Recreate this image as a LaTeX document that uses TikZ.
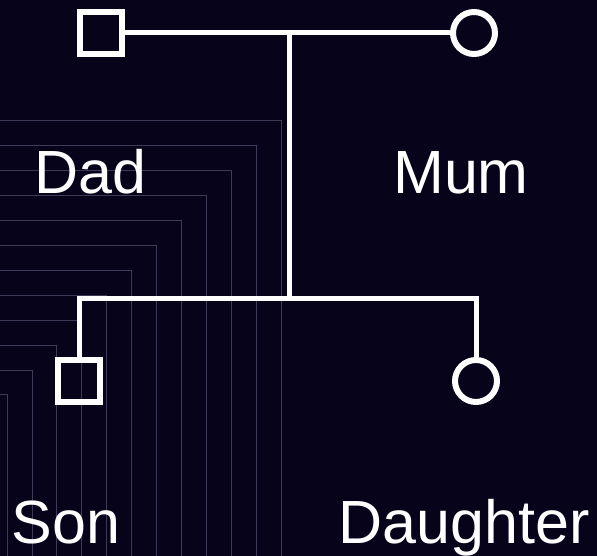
\documentclass[tikz,border=0pt]{standalone}
\usepackage{fontspec}
\setmainfont{Liberation Sans}
\usetikzlibrary{positioning}
\definecolor{bgnavy}{HTML}{06031A}
\definecolor{gridline}{HTML}{403A58}

\begin{document}
\begin{tikzpicture}[
    x=1pt, y=-1pt,
    male/.style={
      draw=white,
      line width=6pt,
      rectangle,
      minimum size=42pt,
      inner sep=0pt
    },
    female/.style={
      draw=white,
      line width=6pt,
      circle,
      minimum size=42pt,
      inner sep=0pt
    },
    personlabel/.style={
      text=white,
      font=\fontsize{61}{61}\selectfont,
      inner sep=0pt,
      anchor=base
    },
    link/.style={draw=white, line width=5pt}
  ]
  \fill[bgnavy] (0,0) rectangle (597,556);
  \useasboundingbox (0,0) rectangle (597,556);
  % faint nested corners behind the tree
  \foreach \k in {0,...,11} {
    \draw[gridline, line width=1pt] (0,121+24.9*\k) -| (281-24.9*\k,556);
  }
  \node[male] (dad) at (101,33) {};
  \node[female] (mum) at (474,33) {};
  \node[male] (son) at (79,381) {};
  \node[female] (daughter) at (476,381) {};
  \node[personlabel] (dadlabel) at (90,194) {Dad};
  \node[personlabel] (mumlabel) at (461,194) {Mum};
  \node[personlabel] (sonlabel) at (66,543) {Son};
  \node[personlabel] (daughterlabel) at (464,543) {Daughter};
  \coordinate (union) at (289,33);
  \coordinate (sibbar) at (289,298);
  \draw[link] (dad) -- (mum);
  \draw[link] (union) -- (sibbar);
  \draw[link] (son.north) |- (sibbar) -| (daughter.north);
\end{tikzpicture}
\end{document}
